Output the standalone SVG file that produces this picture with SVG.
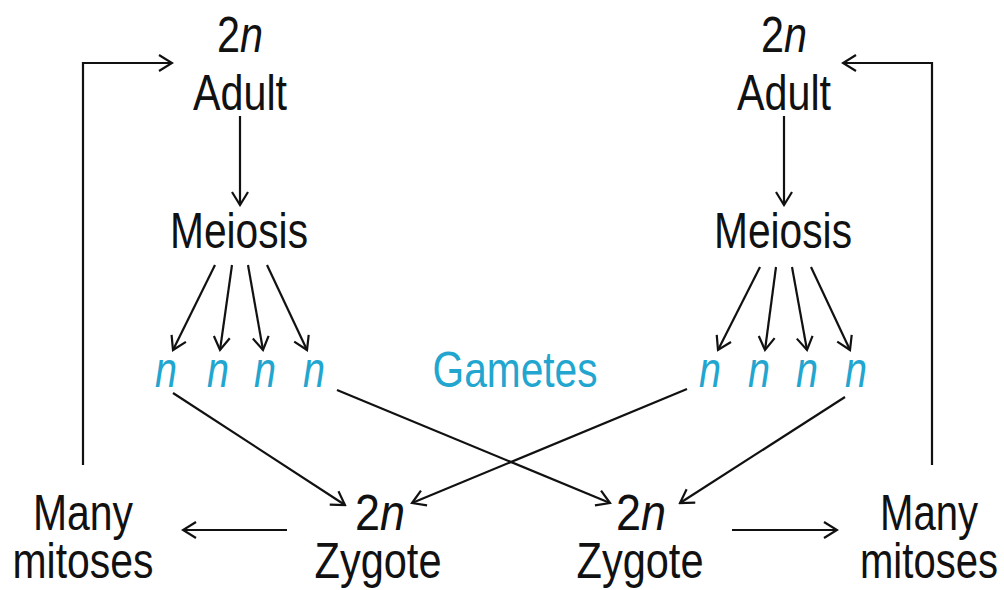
<svg xmlns="http://www.w3.org/2000/svg" width="1004" height="590" viewBox="0 0 1004 590">
  <style>
    .t { font-family: "Liberation Sans", Arial, sans-serif; font-size: 50px; fill: #111; text-anchor: middle; }
    .g { fill: #22a6cf; }
    .i { font-style: italic; }
    .c { stroke: #111; stroke-width: 2.2; fill: none; marker-end: url(#arrow); }
  </style>
  <defs>
    <marker id="arrow" markerUnits="userSpaceOnUse" viewBox="-15 -10 17 20" markerWidth="17" markerHeight="20" refX="0" refY="0" orient="auto">
      <path d="M-13,-8 L0,0 L-13,8" fill="none" stroke="#111" stroke-width="2.2"/>
    </marker>
  </defs>
  <rect width="1004" height="590" fill="#fff"/>

  <!-- connectors -->
  <g id="connectors">
    <path class="c" d="M83,465 V63 H172"/>
    <path class="c" d="M932,465 V63 H843"/>
    <path class="c" d="M240,116 V205"/>
    <path class="c" d="M784,116 V205"/>
    <path class="c" d="M215,265 L173,350"/>
    <path class="c" d="M232,265 L220,350"/>
    <path class="c" d="M248,265 L263,350"/>
    <path class="c" d="M267,265 L307,350"/>
    <path class="c" d="M760,267 L718,350"/>
    <path class="c" d="M776,267 L765,350"/>
    <path class="c" d="M792,267 L807,350"/>
    <path class="c" d="M811,267 L850,350"/>
    <path class="c" d="M173,393 L345,505"/>
    <path class="c" d="M337,390 L610,503"/>
    <path class="c" d="M687,389 L412,503"/>
    <path class="c" d="M845,397 L680,503"/>
    <path class="c" d="M287,530 L183,530"/>
    <path class="c" d="M732,530 L837,530"/>
  </g>

  <g id="adult-left">
    <text class="t" x="240" y="52" textLength="46" lengthAdjust="spacingAndGlyphs">2<tspan class="i">n</tspan></text>
    <text class="t" x="240" y="110" textLength="94" lengthAdjust="spacingAndGlyphs">Adult</text>
  </g>
  <g id="adult-right">
    <text class="t" x="784" y="52" textLength="46" lengthAdjust="spacingAndGlyphs">2<tspan class="i">n</tspan></text>
    <text class="t" x="784" y="110" textLength="94" lengthAdjust="spacingAndGlyphs">Adult</text>
  </g>

  <g id="meiosis-left">
    <text class="t" x="239" y="248" textLength="138" lengthAdjust="spacingAndGlyphs">Meiosis</text>
  </g>
  <g id="meiosis-right">
    <text class="t" x="783" y="248" textLength="138" lengthAdjust="spacingAndGlyphs">Meiosis</text>
  </g>

  <g id="gametes-left">
    <text class="t g i" x="166" y="387" textLength="22" lengthAdjust="spacingAndGlyphs">n</text>
    <text class="t g i" x="218" y="387" textLength="22" lengthAdjust="spacingAndGlyphs">n</text>
    <text class="t g i" x="265" y="387" textLength="22" lengthAdjust="spacingAndGlyphs">n</text>
    <text class="t g i" x="314" y="387" textLength="22" lengthAdjust="spacingAndGlyphs">n</text>
  </g>
  <g id="gametes-label">
    <text class="t g" x="515" y="387" textLength="165" lengthAdjust="spacingAndGlyphs">Gametes</text>
  </g>
  <g id="gametes-right">
    <text class="t g i" x="710" y="387" textLength="22" lengthAdjust="spacingAndGlyphs">n</text>
    <text class="t g i" x="759" y="387" textLength="22" lengthAdjust="spacingAndGlyphs">n</text>
    <text class="t g i" x="807" y="387" textLength="22" lengthAdjust="spacingAndGlyphs">n</text>
    <text class="t g i" x="856" y="387" textLength="22" lengthAdjust="spacingAndGlyphs">n</text>
  </g>

  <g id="zygote-left">
    <text class="t" x="380" y="530" textLength="50" lengthAdjust="spacingAndGlyphs">2<tspan class="i">n</tspan></text>
    <text class="t" x="378" y="578" textLength="127" lengthAdjust="spacingAndGlyphs">Zygote</text>
  </g>
  <g id="zygote-right">
    <text class="t" x="641" y="530" textLength="50" lengthAdjust="spacingAndGlyphs">2<tspan class="i">n</tspan></text>
    <text class="t" x="640" y="578" textLength="127" lengthAdjust="spacingAndGlyphs">Zygote</text>
  </g>

  <g id="mitoses-left">
    <text class="t" x="83" y="530" textLength="100" lengthAdjust="spacingAndGlyphs">Many</text>
    <text class="t" x="83" y="578" textLength="141" lengthAdjust="spacingAndGlyphs">mitoses</text>
  </g>
  <g id="mitoses-right">
    <text class="t" x="929" y="530" textLength="98" lengthAdjust="spacingAndGlyphs">Many</text>
    <text class="t" x="929" y="578" textLength="138" lengthAdjust="spacingAndGlyphs">mitoses</text>
  </g>
</svg>
